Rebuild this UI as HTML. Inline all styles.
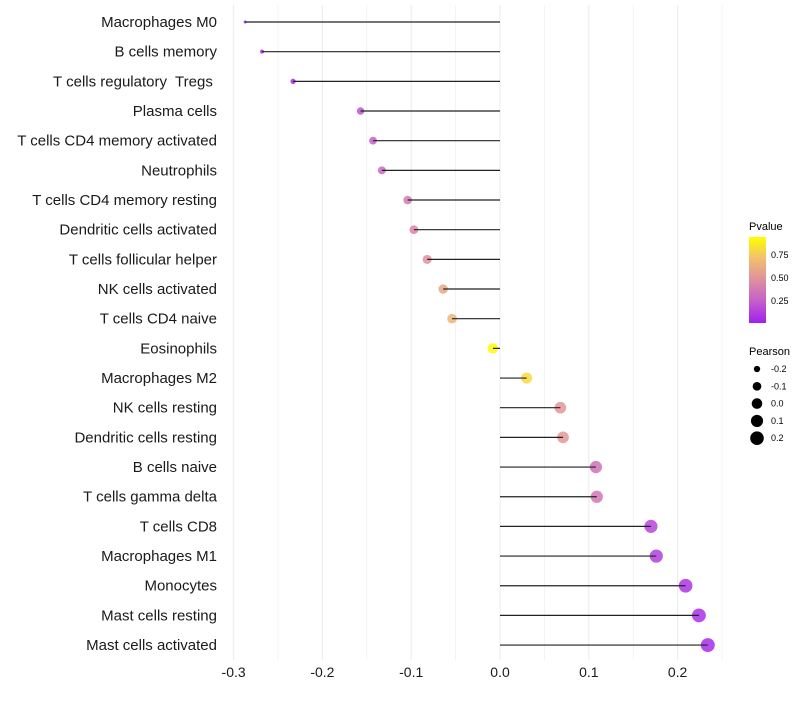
<!DOCTYPE html>
<html><head><meta charset="utf-8"><style>
body{margin:0;background:#fff;}
svg text{font-family:"Liberation Sans",sans-serif;white-space:pre;}
</style></head><body>
<svg id="chart" width="800" height="700" xmlns="http://www.w3.org/2000/svg">
<defs><linearGradient id="pg" x1="0" y1="1" x2="0" y2="0">
<stop offset="0" stop-color="#a020f0"/><stop offset="0.25" stop-color="#c45ecb"/><stop offset="0.5" stop-color="#df8f9f"/><stop offset="0.75" stop-color="#f2bf6e"/><stop offset="1" stop-color="#ffff00"/>
</linearGradient></defs>
<g id="grid"></g>
<g id="marks"></g>
<g id="ylabels"></g>
<g id="xlabels"></g>
<g>
<text x="749" y="230" font-size="11">Pvalue</text>
<rect x="749" y="237" width="17" height="86" fill="url(#pg)"/>
<text x="771" y="258" font-size="9">0.75</text>
<text x="771" y="281" font-size="9">0.50</text>
<text x="771" y="304" font-size="9">0.25</text>
</g>
<g id="sizeleg">
<text x="749" y="355" font-size="11">Pearson</text>
</g>
</svg>
<script>
const categories=["Macrophages M0","B cells memory","T cells regulatory  Tregs ","Plasma cells","T cells CD4 memory activated","Neutrophils","T cells CD4 memory resting","Dendritic cells activated","T cells follicular helper","NK cells activated","T cells CD4 naive","Eosinophils","Macrophages M2","NK cells resting","Dendritic cells resting","B cells naive","T cells gamma delta","T cells CD8","Macrophages M1","Monocytes","Mast cells resting","Mast cells activated"];
const pearson=[-0.287,-0.268,-0.233,-0.157,-0.143,-0.133,-0.104,-0.097,-0.082,-0.064,-0.054,-0.008,0.030,0.068,0.071,0.108,0.109,0.170,0.176,0.209,0.224,0.234];
const pvalues=[0.01,0.03,0.05,0.2,0.25,0.3,0.4,0.45,0.5,0.62,0.7,0.98,0.85,0.55,0.55,0.35,0.38,0.15,0.12,0.08,0.06,0.05];
const xTicks=[-0.3,-0.2,-0.1,0.0,0.1,0.2];
const xTickLabels=["-0.3","-0.2","-0.1","0.0","0.1","0.2"];
const sizeLegend=[-0.2,-0.1,0.0,0.1,0.2];
const sizeLegendLabels=["-0.2","-0.1","0.0","0.1","0.2"];
const NS="http://www.w3.org/2000/svg";
const x=v=>500+v*888;
const y=i=>22+i*29.67;
const r=v=>Math.sqrt(Math.max(1,28+89.8*v));
const stops=[[0,[160,32,240]],[0.25,[196,94,203]],[0.5,[223,143,159]],[0.75,[242,191,110]],[1,[255,255,0]]];
function col(p){for(let k=0;k<stops.length-1;k++){const[a,c1]=stops[k],[b,c2]=stops[k+1];if(p<=b){const t=(p-a)/(b-a);return `rgb(${c1.map((c,j)=>Math.round(c+(c2[j]-c)*t)).join(',')})`;}}return 'rgb(255,255,0)';}
function mk(tag,attrs,parent){const e=document.createElementNS(NS,tag);for(const k in attrs)e.setAttribute(k,attrs[k]);parent.appendChild(e);return e;}
const grid=document.getElementById('grid'),marks=document.getElementById('marks'),yl=document.getElementById('ylabels'),xl=document.getElementById('xlabels');
for(let v=-0.3;v<=0.251;v+=0.05){const gl=mk('line',{x1:x(v),x2:x(v),y1:5,y2:660,stroke:'#ebebeb','stroke-width':Math.abs(Math.round(v*100)%10)<1?1:0.6},grid);

}
categories.forEach((c,i)=>{
const t=mk('text',{x:217,y:y(i)+5,'font-size':15,'text-anchor':'end',fill:'#1a1a1a'},yl);t.textContent=c;


const pt=mk('circle',{cx:x(pearson[i]),cy:y(i),r:r(pearson[i]),fill:col(pvalues[i]),'fill-opacity':0.85},marks);


const ln=mk('line',{x1:x(0),x2:x(pearson[i]),y1:y(i),y2:y(i),stroke:'#222','stroke-width':1.2},marks);


});
xTicks.forEach((v,i)=>{const t=mk('text',{x:x(v),y:677,'font-size':14,'text-anchor':'middle',fill:'#1a1a1a'},xl);t.textContent=xTickLabels[i];

});
const sl=document.getElementById('sizeleg');
sizeLegend.forEach((v,i)=>{const yy=369+i*17.3;
const c=mk('circle',{cx:757,cy:yy,r:r(v),fill:'#000'},sl);


const t=mk('text',{x:771,y:yy+3,'font-size':9},sl);t.textContent=sizeLegendLabels[i];

});
</script>
</body></html>
